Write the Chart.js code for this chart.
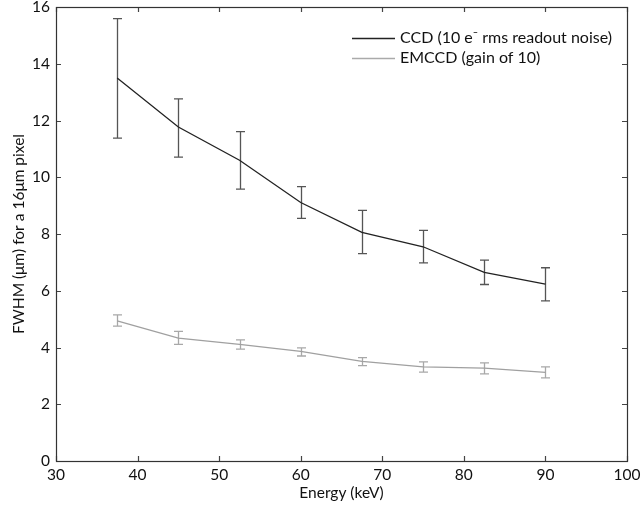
<!DOCTYPE html>
<html><head><meta charset="utf-8">
<script src="https://cdn.jsdelivr.net/npm/chart.js@4/dist/chart.umd.min.js"></script>
<style>html,body{margin:0;padding:0;background:#fff}#wrap{width:642px;height:506px}</style>
</head><body><div id="wrap"><canvas id="c" width="642" height="506"></canvas></div>
<script>
const energies = [37.5, 45, 52.5, 60, 67.5, 75, 82.5, 90];
const ccdFwhm = [13.5, 11.77, 10.6, 9.11, 8.06, 7.55, 6.65, 6.23];
const ccdErrLow = [11.38, 10.71, 9.58, 8.55, 7.31, 6.98, 6.22, 5.64];
const ccdErrHigh = [15.59, 12.76, 11.61, 9.67, 8.83, 8.13, 7.08, 6.81];
const emFwhm = [4.94, 4.33, 4.11, 3.86, 3.51, 3.32, 3.27, 3.12];
const emErrLow = [4.75, 4.11, 3.94, 3.70, 3.36, 3.13, 3.07, 2.93];
const emErrHigh = [5.15, 4.57, 4.27, 3.99, 3.64, 3.49, 3.46, 3.32];
const xTicks = [30, 40, 50, 60, 70, 80, 90, 100];
const yTicks = [0, 2, 4, 6, 8, 10, 12, 14, 16];
const seriesLabels = ['CCD (10 e\u207B rms readout noise)', 'EMCCD (gain of 10)'];

const FONT = 'Lato, "Open Sans", sans-serif';
const toPts = (xs, ys) => xs.map((x, i) => ({x: x, y: ys[i]}));

const errorBars = {
  id: 'errorBars',
  beforeDatasetsDraw(chart) {
    const ctx = chart.ctx, xs = chart.scales.x, ys = chart.scales.y;
    const sets = [
      {lo: ccdErrLow, hi: ccdErrHigh, color: '#555555'},
      {lo: emErrLow, hi: emErrHigh, color: '#a8a8a8'}
    ];
    ctx.save();
    ctx.lineWidth = 1.3;
    sets.forEach(s => {
      ctx.strokeStyle = s.color;
      energies.forEach((e, i) => {
        const px = Math.round(xs.getPixelForValue(e)) + 0.5;
        const y1 = ys.getPixelForValue(s.lo[i]);
        const y2 = ys.getPixelForValue(s.hi[i]);
        ctx.beginPath();
        ctx.moveTo(px, y1); ctx.lineTo(px, y2);
        ctx.moveTo(px - 4.5, y1); ctx.lineTo(px + 4.5, y1);
        ctx.moveTo(px - 4.5, y2); ctx.lineTo(px + 4.5, y2);
        ctx.stroke();
      });
    });
    ctx.restore();
  }
};

const frame = {
  id: 'frame',
  afterDraw(chart) {
    const ctx = chart.ctx, a = chart.chartArea, xs = chart.scales.x, ys = chart.scales.y;
    ctx.save();
    ctx.strokeStyle = '#444';
    ctx.lineWidth = 1.2;
    ctx.beginPath();
    xTicks.forEach(t => {
      const px = Math.round(xs.getPixelForValue(t)) + 0.5;
      ctx.moveTo(px, a.bottom); ctx.lineTo(px, a.bottom - 5);
      ctx.moveTo(px, a.top); ctx.lineTo(px, a.top + 5);
    });
    yTicks.forEach(t => {
      const py = Math.round(ys.getPixelForValue(t)) + 0.5;
      ctx.moveTo(a.left, py); ctx.lineTo(a.left + 5, py);
      ctx.moveTo(a.right, py); ctx.lineTo(a.right - 5, py);
    });
    ctx.stroke();
    ctx.strokeStyle = '#333';
    ctx.strokeRect(a.left + 0.5, a.top + 0.5, a.right - a.left, a.bottom - a.top);
    // legend
    const lx = a.right - 275, tx = a.right - 227;
    const rows = [{y: a.top + 31, c: '#222'}, {y: a.top + 51, c: '#aaaaaa'}];
    ctx.font = '16px ' + FONT;
    ctx.textBaseline = 'middle';
    ctx.fillStyle = '#111';
    rows.forEach((r, i) => {
      ctx.strokeStyle = r.c; ctx.lineWidth = 1.3;
      ctx.beginPath(); ctx.moveTo(lx, r.y + 0.5); ctx.lineTo(lx + 43, r.y + 0.5); ctx.stroke();
      ctx.fillText(chart.data.datasets[i].label, tx, r.y);
    });
    ctx.restore();
  }
};

new Chart(document.getElementById('c'), {
  type: 'line',
  data: {
    datasets: [
      {label: seriesLabels[0], data: toPts(energies, ccdFwhm), borderColor: '#222', borderWidth: 1.3, pointRadius: 0, fill: false, tension: 0},
      {label: seriesLabels[1], data: toPts(energies, emFwhm), borderColor: '#a0a0a0', borderWidth: 1.3, pointRadius: 0, fill: false, tension: 0}
    ]
  },
  options: {
    responsive: false,
    animation: false,
    events: [],
    layout: {padding: {left: 0, right: 15, top: 7, bottom: 0}},
    plugins: {legend: {display: false}, tooltip: {enabled: false}},
    scales: {
      x: {
        type: 'linear', min: 30, max: 100,
        afterBuildTicks: s => { s.ticks = xTicks.map(v => ({value: v})); },
        afterFit: s => { s.height = 45; s.paddingLeft = 0; s.paddingRight = 0; },
        grid: {display: false, drawTicks: false},
        border: {display: false},
        ticks: {color: '#111', font: {family: FONT, size: 15.5}, padding: 5, maxRotation: 0},
        title: {display: true, text: 'Energy (keV)', color: '#111', font: {family: FONT, size: 15.5}, padding: {top: 0, bottom: 4}}
      },
      y: {
        type: 'linear', min: 0, max: 16,
        afterBuildTicks: s => { s.ticks = yTicks.map(v => ({value: v})); },
        afterFit: s => { s.width = 56; s.paddingTop = 0; s.paddingBottom = 0; },
        grid: {display: false, drawTicks: false},
        border: {display: false},
        ticks: {color: '#111', font: {family: FONT, size: 15.5}, padding: 6},
        title: {display: true, text: 'FWHM (\u03BCm) for a 16\u03BCm pixel', color: '#111', font: {family: FONT, size: 15.5}, padding: {top: 10, bottom: 0}}
      }
    }
  },
  plugins: [errorBars, frame]
});
</script></body></html>
